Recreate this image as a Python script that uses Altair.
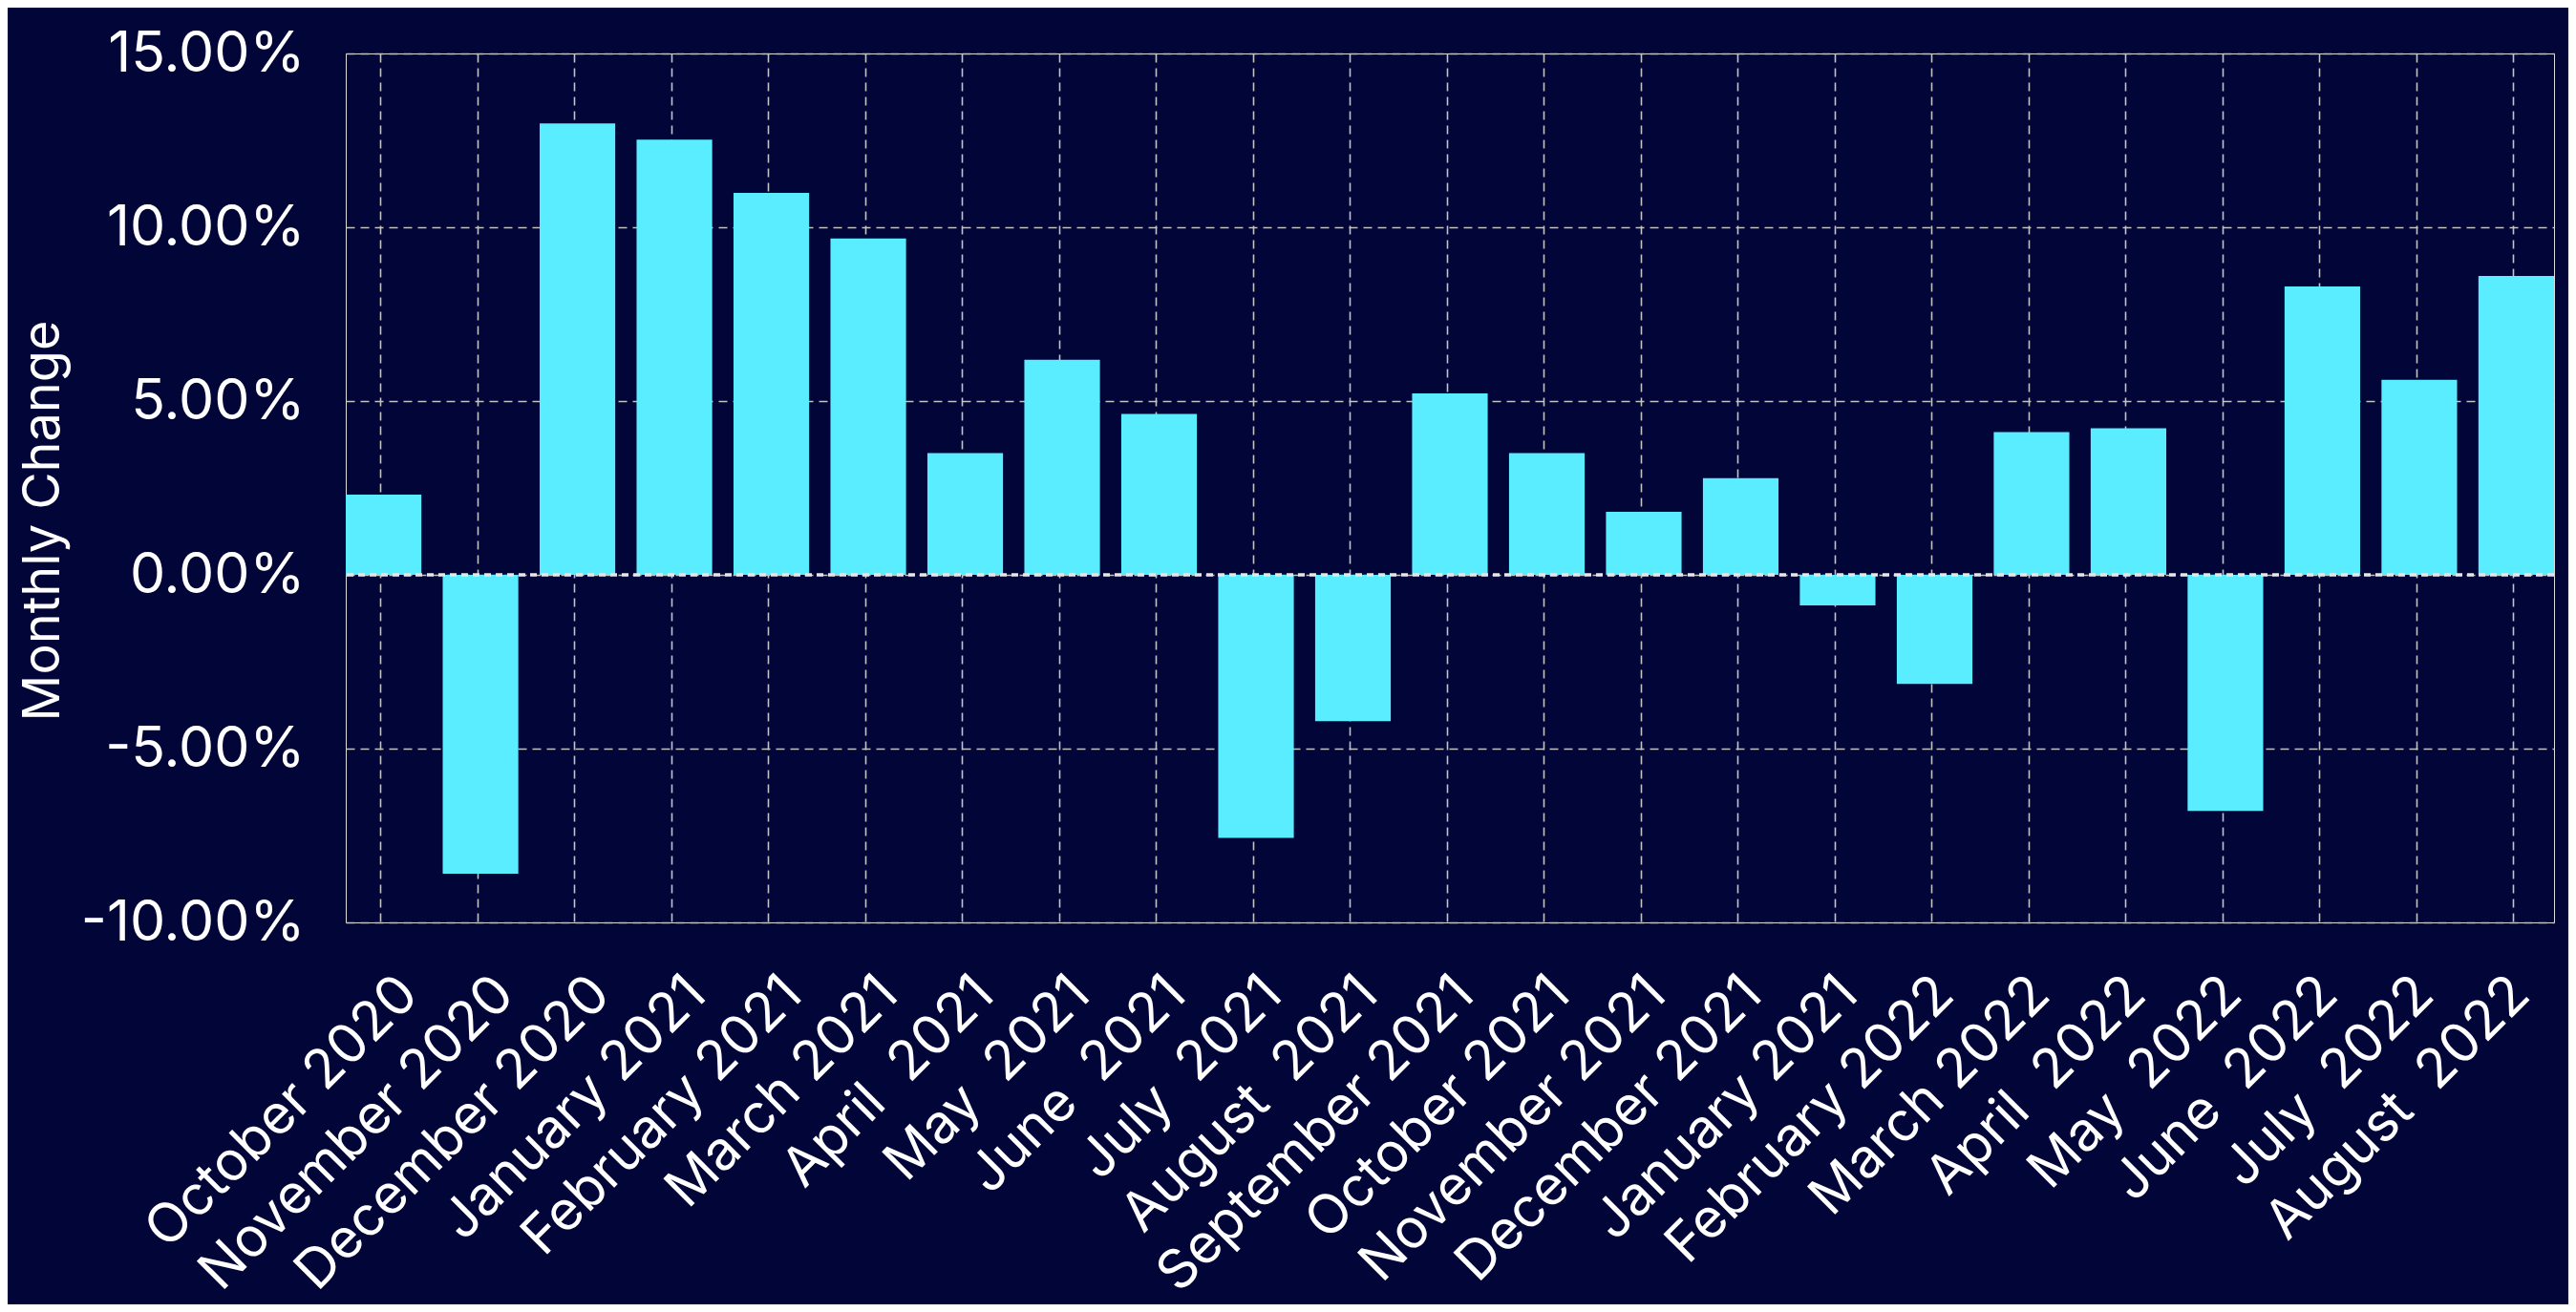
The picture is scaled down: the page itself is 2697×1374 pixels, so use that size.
import json
import altair as alt
import pandas as pd

months = [
    "October 2020", "November 2020", "December 2020", "January 2021",
    "February 2021", "March 2021", "April  2021", "May  2021", "June  2021",
    "July  2021", "August  2021", "September 2021", "October 2021",
    "November 2021", "December 2021", "January 2021", "February 2022",
    "March 2022", "April  2022", "May  2022", "June  2022", "July  2022",
    "August  2022",
]
changes_pct = [
    2.31, -8.60, 12.99, 12.52, 10.99, 9.68, 3.50, 6.19, 4.63, -7.57, -4.21,
    5.22, 3.50, 1.81, 2.78, -0.88, -3.14, 4.11, 4.22, -6.79, 8.30, 5.61, 8.60,
]
y_ticks = [-0.10, -0.05, 0.0, 0.05, 0.10, 0.15]

BG = "#010537"
BAR = "#5AECFF"
GRID = "#c4c4c4"
FONT = "Inter"

df = pd.DataFrame({
    "idx": list(range(len(months))),
    "month": months,
    "change": [v / 100 for v in changes_pct],
})

display_labels = [m.replace("  ", "\u00a0 ") for m in months]
label_expr = json.dumps(display_labels, ensure_ascii=False) + "[datum.value]"

bars = alt.Chart(df).mark_bar(color=BAR).encode(
    x=alt.X(
        "idx:O",
        title=None,
        scale=alt.Scale(paddingInner=0.22, paddingOuter=0),
        axis=alt.Axis(
            labelExpr=label_expr,
            labelAngle=-45,
            labelAlign="right",
            labelBaseline="top",
            labelPadding=46,
            labelOffset={"expr": "7 - datum.value"},
            labelFontSize=57,
            labelColor="white",
            labelFont=FONT,
            labelLimit=0,
            ticks=False,
            tickSize=0,
            domain=False,
            grid=True,
            gridColor=GRID,
            gridDash=[9, 6],
            gridWidth=1.6,
            bandPosition=0.465,
            labelOverlap=False,
        ),
    ),
    y=alt.Y(
        "change:Q",
        title="Monthly Change",
        scale=alt.Scale(domain=[-0.10, 0.15], nice=False, zero=False),
        axis=alt.Axis(
            values=y_ticks,
            labelExpr="replace(format(datum.value, '.2%'), '\u2212', '-')",
            labelFontSize=59,
            labelColor="white",
            labelFont=FONT,
            labelLimit=0,
            labelPadding=43,
            labelAlign="right",
            labelBaseline="middle",
            ticks=False,
            tickSize=0,
            domain=False,
            grid=True,
            gridColor=GRID,
            gridDash=[9, 6],
            gridWidth=1.6,
            titleFontSize=54,
            titleFontWeight="normal",
            titleColor="white",
            titleFont=FONT,
            titleAngle=-90,
            titleAlign="center",
            titleBaseline="alphabetic",
            titleX=-301,
            titleY=489,
        ),
    ),
)

zero = alt.Chart(pd.DataFrame({"z": [0.0]})).mark_rule(
    color="#e6e6e6", strokeDash=[7, 5], strokeWidth=3.5
).encode(y="z:Q")

chart = alt.layer(bars, zero).properties(
    width=2312,
    height=910,
    autosize=alt.AutoSizeParams(type="none"),
    padding={"left": 354, "top": 48, "right": 15, "bottom": 400},
    background=BG,
).configure_view(stroke=None).configure(font=FONT)

chart.save("out.html", embed_options={"renderer": "svg", "actions": False})
